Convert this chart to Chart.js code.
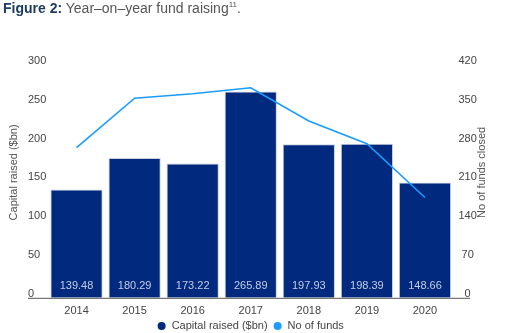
<!DOCTYPE html>
<html>
<head>
<meta charset="utf-8">
<script src="https://cdn.jsdelivr.net/npm/chart.js@4.4.1/dist/chart.umd.min.js"></script>
<style>
  body { margin: 0; background: #fff; }
  #wrap { position: relative; width: 515px; height: 333px; overflow: hidden; }
  #title { position: absolute; left: 3px; top: 0; font: 14px "Liberation Sans", Arial, sans-serif; color: #555; white-space: nowrap; }
  #title b { color: #1d3b63; }
  #title sup { font-size: 8px; }
  canvas { position: absolute; left: 0; top: 0; }
</style>
</head>
<body>
<div id="wrap">
  <canvas id="fund-chart" width="515" height="333"></canvas>
  <div id="title"><b>Figure 2:</b> Year–on–year fund raising<sup>11</sup>.</div>
</div>
<script>
const years = ['2014', '2015', '2016', '2017', '2018', '2019', '2020'];
const capitalRaised = [139.48, 180.29, 173.22, 265.89, 197.93, 198.39, 148.66];
const fundsClosed = [271, 360, 368, 379, 319, 278, 181];
const capitalTicks = [0, 50, 100, 150, 200, 250, 300];
const fundTicks = [0, 70, 140, 210, 280, 350, 420];

const FONT = '"Liberation Sans", Arial, sans-serif';
const NAVY = '#012a7f';
const SKY = '#1a9cff';

// value labels inside the bars, baseline, axis titles and a compact legend
const extras = {
  id: 'extras',
  afterDatasetsDraw(chart) {
    const ctx = chart.ctx;
    const area = chart.chartArea;
    const left = chart.scales.y;
    const right = chart.scales.y1;
    const bars = chart.getDatasetMeta(0).data;
    ctx.save();
    ctx.font = '11px ' + FONT;
    ctx.textAlign = 'center';
    ctx.textBaseline = 'middle';
    ctx.fillStyle = '#c3cbe2';
    bars.forEach((bar, i) => {
      ctx.fillText(capitalRaised[i].toFixed(2), bar.x, area.bottom - 12);
    });

    ctx.strokeStyle = '#555';
    ctx.lineWidth = 1;
    ctx.beginPath();
    ctx.moveTo(left.left, area.bottom + 0.5);
    ctx.lineTo(right.right - 8, area.bottom + 0.5);
    ctx.stroke();

    ctx.fillStyle = '#555';
    const midY = (area.top + area.bottom) / 2 - 9;
    ctx.save();
    ctx.translate(14, midY);
    ctx.rotate(-Math.PI / 2);
    ctx.fillText('Capital raised ($bn)', 0, 0);
    ctx.restore();
    ctx.save();
    ctx.translate(482, midY);
    ctx.rotate(-Math.PI / 2);
    ctx.fillText('No of funds closed', 0, 0);
    ctx.restore();

    // legend
    const items = chart.data.datasets.map(ds => ({ text: ds.label, color: ds.backgroundColor }));
    const widths = items.map(it => 14 + ctx.measureText(it.text).width);
    const gap = 6;
    const total = widths.reduce((a, b) => a + b, 0) + gap * (items.length - 1);
    let x = (area.left + area.right) / 2 - total / 2;
    const ly = chart.height - 7;
    ctx.textAlign = 'left';
    items.forEach((it, i) => {
      ctx.fillStyle = it.color;
      ctx.beginPath();
      ctx.arc(x + 4, ly, 4, 0, Math.PI * 2);
      ctx.fill();
      ctx.fillStyle = '#444';
      ctx.fillText(it.text, x + 14, ly);
      x += widths[i] + gap;
    });
    ctx.restore();
  }
};

const tickFont = { family: FONT, size: 11 };

const chart = new Chart(document.getElementById('fund-chart'), {
  type: 'bar',
  data: {
    labels: years,
    datasets: [{
      label: 'Capital raised ($bn)',
      data: capitalRaised,
      backgroundColor: NAVY,
      borderColor: '#c9cfe0',
      borderWidth: 1,
      barPercentage: 0.9,
      categoryPercentage: 1,
      yAxisID: 'y',
      order: 1
    }, {
      type: 'line',
      label: 'No of funds',
      data: fundsClosed,
      borderColor: SKY,
      backgroundColor: SKY,
      borderWidth: 1.6,
      pointRadius: 0,
      tension: 0,
      yAxisID: 'y1',
      order: 0
    }]
  },
  options: {
    responsive: false,
    animation: false,
    layout: {
      padding: { left: 28, right: 37, top: 65, bottom: 8 }
    },
    scales: {
      x: {
        grid: { display: false, drawTicks: false },
        border: { display: false },
        ticks: { color: '#444', font: tickFont, padding: 7, maxRotation: 0 }
      },
      y: {
        position: 'left',
        min: 0,
        max: 300,
        afterBuildTicks: (axis) => { axis.ticks = capitalTicks.map(v => ({ value: v })); },
        afterFit: (axis) => { axis.width = 19.5; },
        grid: { display: false, drawTicks: false },
        border: { display: false },
        ticks: { color: '#444', font: tickFont, crossAlign: 'far', labelOffset: -4 }
      },
      y1: {
        position: 'right',
        min: 0,
        max: 420,
        afterBuildTicks: (axis) => { axis.ticks = fundTicks.map(v => ({ value: v })); },
        afterFit: (axis) => { axis.width = 24; },
        grid: { display: false, drawTicks: false },
        border: { display: false },
        ticks: { color: '#444', font: tickFont, crossAlign: 'center', padding: 4.5, labelOffset: -4 }
      }
    },
    plugins: {
      legend: { display: false },
      tooltip: { enabled: false }
    }
  },
  plugins: [extras]
});
</script>
</body>
</html>
